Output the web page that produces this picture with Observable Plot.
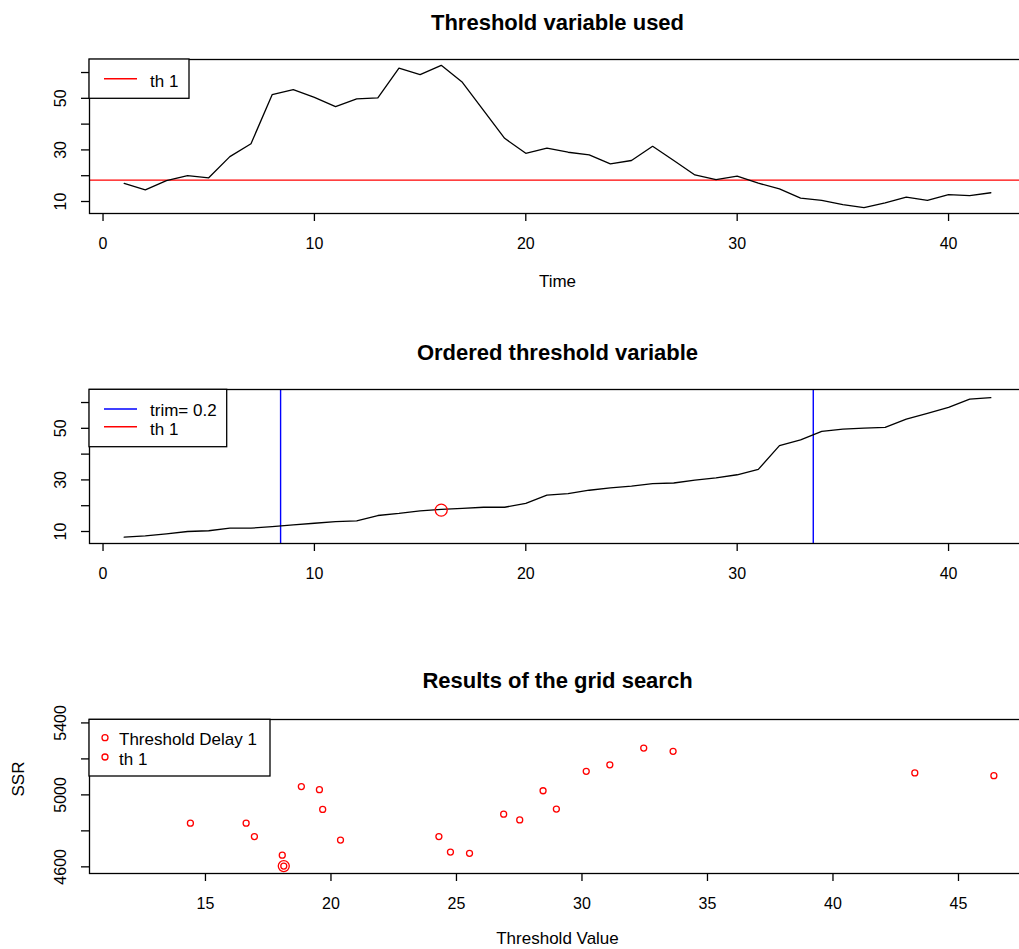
<!DOCTYPE html>
<html><head><meta charset="utf-8">
<script src="https://cdn.jsdelivr.net/npm/d3@7"></script>
<script src="https://cdn.jsdelivr.net/npm/@observablehq/plot@0.6"></script>
<style>
html,body{margin:0;padding:0;overflow:hidden;background:#fff;}
#wrap{position:relative;width:1019px;height:949px;overflow:hidden;background:#fff;font-family:"Liberation Sans",Arial,sans-serif;}
.panel{position:absolute;left:0;width:1025px;}
.panel svg{overflow:visible;max-width:none !important;}
#legend{position:absolute;left:0;top:0;pointer-events:none;}
</style></head><body><div id="wrap"></div>
<script>
// ---- data ----
const time = [1,2,3,4,5,6,7,8,9,10,11,12,13,14,15,16,17,18,19,20,21,22,23,24,25,26,27,28,29,30,31,32,33,34,35,36,37,38,39,40,41,42];
const thresholdValues = [17,14.5,18.1,20,19.2,27.4,32.4,51.4,53.4,50.4,46.8,49.8,50.2,61.7,59.2,62.8,56.2,45.3,34.5,28.7,30.7,29.1,28.1,24.6,25.9,31.4,25.9,20.3,18.5,19.8,17.1,14.9,11.3,10.4,8.8,7.6,9.5,11.7,10.4,12.7,12.3,13.4];
const orderedValues = [7.8,8.3,9.1,10,10.3,11.3,11.3,11.9,12.6,13.2,13.8,14.1,16.2,17,18,18.6,19,19.4,19.4,20.9,24.1,24.7,26,26.9,27.6,28.6,28.8,29.9,30.8,32,34.1,43.3,45.5,48.8,49.7,50.1,50.4,53.6,55.8,58.1,61.3,61.9];
const th1 = 18.3;
const th1Rank = 16;
const trimBounds = [8.4, 33.6];
const gridThreshold = [14.4,16.62,16.95,18.06,18.12,18.82,19.54,19.67,20.38,24.3,24.76,25.52,26.88,27.52,28.45,28.98,30.17,31.11,32.46,33.63,43.26,46.41];
const gridSSR = [4843,4843,4768,4665,4604,5046,5029,4919,4749,4768,4682,4675,4893,4861,5023,4921,5131,5167,5260,5242,5122,5107];
const th1SSR = 4604;

const timeTicks = [0,10,20,30,40];
const valueTicks = [10,20,30,40,50,60];
const valueTickLabels = [10,30,50];
const thrTicks = [15,20,25,30,35,40,45];
const ssrTicks = [4600,4800,5000,5200,5400];
const ssrTickLabels = [4600,5000,5400];

const series1 = time.map((t,i)=>({t, v: thresholdValues[i]}));
const series2 = time.map((t,i)=>({t, v: orderedValues[i]}));
const grid = gridThreshold.map((x,i)=>({x, y: gridSSR[i]}));

const FONT = '"Liberation Sans", Arial, sans-serif';
const wrap = document.getElementById("wrap");

function panel({top, height, xDomain, yDomain, xTicks, xLabels, yTicks, yLabels, marks, title, titleDy, xLabel, xLabelDy, yLabel}) {
  const frameH = 154;
  const extra = [];
  if (xLabel) extra.push(Plot.text([xLabel], {text: d=>d, frameAnchor: "bottom", dy: xLabelDy, fontSize: 17, fill: "black"}));
  if (yLabel) extra.push(Plot.text([yLabel], {text: d=>d, frameAnchor: "left", dx: -71, rotate: -90, fontSize: 17, fill: "black"}));
  const p = Plot.plot({
    width: 1025, height,
    marginTop: 59, marginBottom: height - 59 - frameH, marginLeft: 89, marginRight: 0,
    style: {fontFamily: FONT, fontSize: "16px", color: "black", background: "transparent", maxWidth: "none"},
    x: {domain: xDomain},
    y: {domain: yDomain},
    marks: [
      ...marks,
      Plot.frame({stroke: "black", strokeWidth: 1.3}),
      Plot.axisX({ticks: xTicks, tickSize: 8, tickPadding: 16, strokeWidth: 1.3,
        tickFormat: d => xLabels.includes(d) ? String(d) : "", label: null}),
      Plot.axisY({ticks: yTicks, tickSize: 8, tickPadding: 16, tickRotate: -90, strokeWidth: 1.3,
        tickFormat: d => yLabels.includes(d) ? String(d) : "", label: null}),
      Plot.text([title], {text: d=>d, frameAnchor: "top", dy: titleDy, fontSize: 22, fontWeight: "bold", fill: "black"}),
      ...extra
    ]
  });
  p.style.maxWidth = "none";
  const div = document.createElement("div");
  div.className = "panel";
  div.style.top = top + "px";
  div.appendChild(p);
  wrap.appendChild(div);
}

panel({
  top: 0, height: 300,
  xDomain: [-0.64, 43.64], yDomain: [5.35, 65.05],
  xTicks: timeTicks, xLabels: timeTicks, yTicks: valueTicks, yLabels: valueTickLabels,
  marks: [
    Plot.ruleY([th1], {stroke: "#ff0000", strokeWidth: 1.4}),
    Plot.line(series1, {x: "t", y: "v", stroke: "black", strokeWidth: 1.3})
  ],
  title: "Threshold variable used", titleDy: -45,
  xLabel: "Time", xLabelDy: 73
});

panel({
  top: 330, height: 250,
  xDomain: [-0.64, 43.64], yDomain: [5.35, 65.05],
  xTicks: timeTicks, xLabels: timeTicks, yTicks: valueTicks, yLabels: valueTickLabels,
  marks: [
    Plot.ruleX(trimBounds, {stroke: "#0000ff", strokeWidth: 1.4}),
    Plot.line(series2, {x: "t", y: "v", stroke: "black", strokeWidth: 1.3}),
    Plot.dot([{t: th1Rank, v: th1}], {x: "t", y: "v", r: 6, stroke: "#ff0000", strokeWidth: 1.3, fill: "none"})
  ],
  title: "Ordered threshold variable", titleDy: -45
});

panel({
  top: 660, height: 289,
  xDomain: [10.38, 47.67], yDomain: [4563, 5419],
  xTicks: thrTicks, xLabels: thrTicks, yTicks: ssrTicks, yLabels: ssrTickLabels,
  marks: [
    Plot.dot(grid, {x: "x", y: "y", r: 3, stroke: "#ff0000", strokeWidth: 1.3, fill: "none"}),
    Plot.dot([{x: gridThreshold[4], y: th1SSR}], {x: "x", y: "y", r: 5.5, stroke: "#ff0000", strokeWidth: 1.3, fill: "none"})
  ],
  title: "Results of the grid search", titleDy: -47,
  xLabel: "Threshold Value", xLabelDy: 70,
  yLabel: "SSR"
});

// ---- legends ----
const svg = d3.select(wrap).append("svg").attr("id","legend").attr("width",1019).attr("height",949)
  .style("font-family", FONT).style("font-size","17px");
function box(x,y,w,h){ svg.append("rect").attr("x",x).attr("y",y).attr("width",w).attr("height",h).attr("fill","white").attr("stroke","black").attr("stroke-width",1.3); }
function lineKey(y,color,label,ty){ svg.append("line").attr("x1",104).attr("x2",137).attr("y1",y).attr("y2",y).attr("stroke",color).attr("stroke-width",1.4);
  svg.append("text").attr("x",150).attr("y",ty).attr("dy","0.35em").attr("fill","black").text(label); }
function dotKey(y,label,ty){ svg.append("circle").attr("cx",105).attr("cy",y).attr("r",3).attr("fill","none").attr("stroke","#ff0000").attr("stroke-width",1.3);
  svg.append("text").attr("x",119).attr("y",ty).attr("dy","0.35em").attr("fill","black").text(label); }

box(89,59,100,39.3);
lineKey(78.7,"#ff0000","th 1",81);

box(89,389.3,137.7,57.4);
lineKey(409,"#0000ff","trim= 0.2",410);
lineKey(426.7,"#ff0000","th 1",429);

box(89,719.3,181,56.7);
dotKey(737.7,"Threshold Delay 1",739);
dotKey(757,"th 1",759.5);
</script></body></html>
